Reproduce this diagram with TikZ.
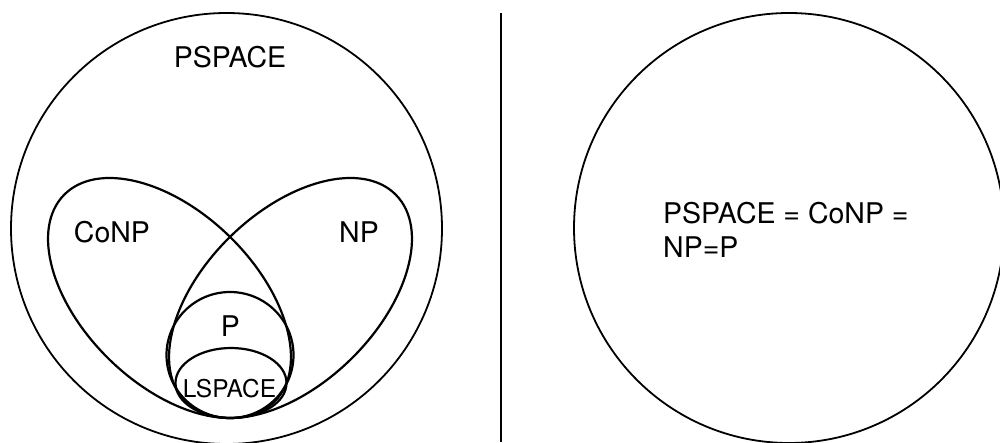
\documentclass[tikz,border=0pt]{standalone}
\usepackage{fontspec}
\setmainfont{TeX Gyre Heros}
\usepackage{tikz}

\begin{document}
\begin{tikzpicture}[x=1pt, y=1pt,
        outer/.style={line width=1.8pt},
        region/.style={line width=2.2pt},
        lbl/.style={inner sep=0pt, font=\fontsize{28.5}{34}\selectfont}]
    % Размеры рисунка
    \useasboundingbox (0,0) rectangle (1000,442);
    \clip (0,0) rectangle (1000,442);

    % Наклон эллипсов CoNP и NP
    \def\tilt{44.3}

    % Левая часть: вложенные классы
    \draw[outer] (226.5,213.5) circle (215.5pt);
    \draw[region, rotate around={-\tilt:(169.5,144)}] (169.5,144) ellipse (147.5pt and 86pt);
    \draw[region, rotate around={\tilt:(290.5,144)}] (290.5,144) ellipse (147.5pt and 86pt);
    \draw[region] (230,87) ellipse (63.5pt and 63pt);
    \draw[region] (231,59) ellipse (55.5pt and 35pt);

    % Подписи классов
    \node[lbl] (pspace) at (230,385) {PSPACE};
    \node[lbl] (conp) at (112,210) {CoNP};
    \node[lbl] (np) at (359,210) {NP};
    \node[lbl] (p) at (230.5,116) {P};
    \node[lbl, font=\fontsize{24.5}{28}\selectfont] (lspace) at (229.5,53) {LSPACE};

    % Разделитель
    \draw[line width=2.5pt] (501,429) -- (501,0);

    % Правая часть: всё совпадает
    \draw[outer] (789,214) circle (215pt);
    \node[lbl, anchor=north west, align=left] (eq) at (663,239.5) {PSPACE = CoNP =\\NP=P};
\end{tikzpicture}
\end{document}
